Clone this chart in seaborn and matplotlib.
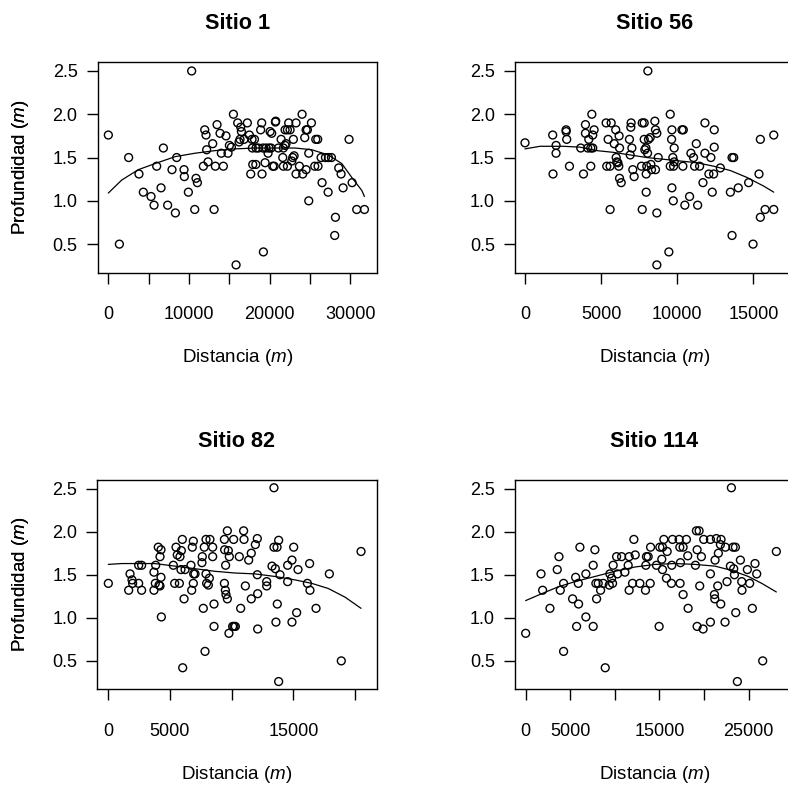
import numpy as np
import matplotlib
matplotlib.use("Agg")
import matplotlib.pyplot as plt
import seaborn as sns

# ---------------- data ----------------
titles = ["Sitio 1", "Sitio 56", "Sitio 82", "Sitio 114"]

dist_1 = [0, 1370, 2520, 3800, 4340, 5300, 5670, 6000, 6540, 6830, 7360, 7900, 8320, 8480,
          9390, 9430, 9930, 10340, 10720, 10880, 11050, 11790, 11960, 12120, 12200, 12370,
          12950, 13120, 13280, 13490, 13860, 14020, 14270, 14600, 14850, 15020, 15270, 15520,
          15850, 16050, 16220, 16340, 16430, 16510, 16840, 17250, 17500, 17670, 17830, 17870,
          17920, 18130, 18300, 18330, 18620, 18900, 19030, 19070, 19190, 19240, 19450, 19570,
          19820, 19940, 20070, 20190, 20270, 20400, 20570, 20730, 20770, 21100, 21440, 21640,
          21720, 21720, 21930, 21930, 22050, 22220, 22380, 22220, 22550, 22760, 22880, 22960,
          23050, 23290, 23290, 23710, 24040, 24120, 24370, 24540, 24540, 24700, 24870, 24870,
          25200, 25610, 25740, 25980, 26020, 26400, 26520, 26940, 27270, 27310, 27680, 28180,
          28090, 28590, 28880, 29130, 29870, 30250, 30820, 31780]
prof_1 = [1.76, 0.50, 1.50, 1.31, 1.10, 1.05, 0.95, 1.40, 1.15, 1.61, 0.95, 1.36, 0.86, 1.50,
          1.36, 1.28, 1.10, 2.50, 0.90, 1.26, 1.21, 1.40, 1.82, 1.76, 1.59, 1.45,
          1.66, 0.90, 1.40, 1.88, 1.78, 1.55, 1.40, 1.75, 1.55, 1.64, 1.62, 2.00,
          0.26, 1.90, 1.68, 1.71, 1.85, 1.80, 1.71, 1.90, 1.76, 1.31, 1.71, 1.61,
          1.42, 1.71, 1.42, 1.61, 1.61, 1.82, 1.90, 1.31, 1.61, 0.41, 1.44, 1.61,
          1.55, 1.61, 1.80, 1.61, 1.78, 1.40, 1.40, 1.91, 1.92, 1.61, 1.71, 1.50,
          1.61, 1.40, 1.64, 1.82, 1.66, 1.82, 1.90, 1.40, 1.82, 1.46, 1.50, 1.71,
          1.52, 1.90, 1.31, 1.40, 2.00, 1.31, 1.73, 1.82, 1.36, 1.82, 1.55, 1.00,
          1.90, 1.40, 1.71, 1.71, 1.40, 1.50, 1.21, 1.50, 1.10, 1.50, 1.50, 0.81,
          0.60, 1.38, 1.31, 1.15, 1.71, 1.21, 0.90, 0.90]

dist_56 = [0, 1820, 1840, 2040, 2040, 2700, 2700, 2740, 2920, 3660, 3840, 3970, 3970, 4120,
           4190, 4320, 4320, 4390, 4450, 4540, 4450, 5330, 5370, 5460, 5590, 5590, 5660, 5860,
           5960, 5990, 6030, 6100, 6160, 6180, 6210, 6210, 6320, 6860, 6910, 6950, 6970, 7020,
           7080, 7170, 7650, 7700, 7700, 7830, 7830, 7870, 7940, 7960, 7960, 8000, 8050, 8070,
           8110, 8220, 8270, 8310, 8530, 8570, 8570, 8660, 8660, 8660, 8750, 9450, 9540, 9540,
           9630, 9650, 9650, 9710, 9740, 9760, 9800, 9800, 10310, 10400, 10370, 10500, 10810,
           10900, 11070, 11140, 11250, 11340, 11470, 11690, 11820, 11820, 12080, 12210, 12300,
           12390, 12430, 12430, 12830, 13490, 13600, 13710, 13600, 14010, 14690, 14980, 15370,
           15460, 15460, 15770, 16340, 16340]
prof_56 = [1.67, 1.76, 1.31, 1.64, 1.55, 1.82, 1.80, 1.71, 1.40, 1.61, 1.31, 1.88, 1.78, 1.61,
           1.71, 1.61, 1.40, 2.00, 1.76, 1.82, 1.61, 1.90, 1.40, 1.71, 1.40, 0.90, 1.90, 1.66,
           1.82, 1.50, 1.45, 1.44, 1.40, 1.75, 1.61, 1.26, 1.21, 1.71, 1.53, 1.85, 1.90, 1.61,
           1.36, 1.28, 1.40, 0.90, 1.90, 1.90, 1.71, 1.59, 1.61, 1.31, 1.10, 1.40, 1.55, 2.50,
           1.71, 1.73, 1.42, 1.36, 1.92, 1.36, 1.82, 1.78, 0.26, 0.86, 1.50, 0.41, 2.00, 1.40,
           1.71, 1.15, 1.82, 1.50, 1.00, 1.40, 1.61, 1.45, 1.82, 1.82, 1.40, 0.95, 1.05,
           1.55, 1.50, 1.40, 1.66, 0.95, 1.40, 1.21, 1.90, 1.55, 1.31, 1.50, 1.10,
           1.31, 1.62, 1.82, 1.38, 1.10, 1.50, 1.50, 0.60, 1.15, 1.21, 0.50, 1.31,
           1.71, 0.81, 0.90, 0.90, 1.76]

dist_82 = [0, 1650, 1760, 1920, 1970, 2460, 2460, 2700, 2700, 3700, 3700, 3810, 3840, 4050,
           4110, 4190, 4270, 4270, 4190, 4300, 5270, 5380, 5490, 5590, 5760, 5810, 5890, 5920,
           6000, 6030, 6140, 6220, 6700, 6760, 6810, 6890, 6890, 6920, 7030, 7590, 7620, 7700,
           7780, 7840, 7920, 7920, 7970, 8110, 8190, 8240, 8460, 8460, 8570, 8570, 9410, 9430,
           9510, 9410, 9490, 9540, 9650, 9650, 9730, 9780, 9810, 10080, 10190, 10300, 10160,
           10620, 10730, 10970, 11000, 11110, 11380, 11590, 11590, 11920, 12080, 12080, 12110,
           12110, 12840, 12840, 13270, 13430, 13430, 13540, 13590, 13680, 13700, 13810, 13810,
           13920, 14540, 14540, 14890, 14890, 15030, 15270, 15380, 16140, 16320, 16350, 16840,
           17920, 18890, 20490]
prof_82 = [1.40, 1.32, 1.51, 1.44, 1.40, 1.40, 1.61, 1.61, 1.32, 1.32, 1.53, 1.40, 1.61, 1.82,
           1.38, 1.37, 1.47, 1.79, 1.71, 1.01, 1.61, 1.40, 1.82, 1.73, 1.40, 1.71, 1.56, 1.78,
           1.91, 0.42, 1.22, 1.56, 1.61, 1.32, 1.82, 1.40, 1.89, 1.51, 1.51, 1.64, 1.71, 1.11,
           1.82, 0.61, 1.91, 1.51, 1.40, 1.38, 1.46, 1.91, 1.82, 1.71, 1.16, 0.90, 1.91, 1.79,
           1.61, 1.40, 1.32, 1.27, 1.22, 2.01, 1.78, 0.82, 1.71, 0.90, 0.90, 0.90, 1.91,
           1.71, 1.11, 2.01, 1.91, 1.37, 1.67, 1.22, 1.75, 1.85, 1.92, 1.50, 1.28,
           0.87, 1.42, 1.37, 1.60, 2.51, 1.82, 1.57, 0.95, 1.82, 1.16, 1.90, 0.26,
           1.50, 1.42, 1.61, 1.67, 0.95, 1.82, 1.06, 1.56, 1.40, 1.63, 1.32, 1.11,
           1.51, 0.50, 1.77]

dist_114 = [0, 1720, 1900, 2720, 3540, 3730, 3880, 4250, 4250, 5260, 5600, 5710, 5900, 5930,
            6080, 6750, 6750, 7570, 7570, 7760, 7870, 7950, 8130, 8400, 8690, 8920, 9370, 9440,
            9630, 9740, 9810, 10190, 10300, 10750, 11120, 11490, 11600, 11600, 11980, 12130,
            12280, 12800, 13430, 13470, 13540, 13730, 13960, 14000, 14660, 14960, 15040, 15260,
            15340, 15340, 15490, 15780, 15860, 16340, 16380, 16460, 17200, 17280, 17310, 17350,
            17650, 17650, 18020, 18210, 18170, 19030, 19140, 19220, 19220, 19440, 19510, 19700,
            19890, 19960, 20710, 20710, 20710, 21160, 21200, 21230, 21380, 21530, 21600, 21830,
            21870, 21900, 22350, 22390, 22570, 22950, 23060, 23250, 23320, 23400, 23510, 23550,
            23730, 24070, 24220, 24250, 24850, 25110, 25410, 25710, 25900, 26570, 28100]
prof_114 = [0.82, 1.51, 1.32, 1.11, 1.56, 1.71, 1.32, 0.61, 1.40, 1.22, 1.47, 0.90, 1.40, 1.16,
            1.82, 1.51, 1.01, 0.90, 1.61, 1.79, 1.40, 1.22, 1.40, 1.32, 1.40, 0.42, 1.38, 1.51,
            1.46, 1.40, 1.61, 1.71, 1.51, 1.71, 1.53, 1.61, 1.71, 1.32, 1.40, 1.91,
            1.73, 1.40, 1.32, 1.61, 1.71, 1.71, 1.40, 1.82, 1.61, 0.90, 1.82, 1.68,
            1.82, 1.56, 1.91, 1.46, 1.77, 1.40, 1.61, 1.91, 1.91, 1.82, 1.40, 1.64,
            1.82, 1.27, 1.91, 1.11, 1.72, 1.61, 2.01, 1.79, 0.90, 2.01, 1.37, 1.71,
            0.87, 1.91, 1.91, 1.51, 0.95, 1.27, 1.22, 1.67, 1.92, 1.37, 1.75, 1.85,
            1.16, 1.91, 0.95, 1.82, 1.42, 1.60, 2.51, 1.82, 1.57, 1.50, 1.82, 1.06,
            0.26, 1.67, 1.42, 1.32, 1.56, 1.40, 1.11, 1.63, 1.51, 0.50, 1.77]

# fitted curves
fit_x_1 = [0, 1660, 3720, 5790, 8280, 10760, 13240, 15720, 18200, 20690, 23170, 25240,
           27300, 28970, 30210, 31450, 31780]
fit_y_1 = [1.09, 1.24, 1.36, 1.43, 1.51, 1.55, 1.58, 1.60, 1.61, 1.61, 1.61, 1.59,
           1.53, 1.43, 1.27, 1.12, 1.05]
fit_x_56 = [0, 990, 2520, 3620, 4710, 5810, 6910, 8000, 9100, 10200, 11290, 12390,
            13490, 14580, 15680, 16340]
fit_y_56 = [1.60, 1.63, 1.63, 1.62, 1.58, 1.56, 1.53, 1.50, 1.48, 1.46, 1.44, 1.40,
            1.35, 1.27, 1.17, 1.10]
fit_x_82 = [0, 1080, 2430, 3780, 5410, 7030, 8650, 10270, 11890, 13510, 15140, 16490,
            17840, 19190, 20490]
fit_y_82 = [1.62, 1.63, 1.63, 1.63, 1.60, 1.57, 1.54, 1.52, 1.51, 1.48, 1.44, 1.40,
            1.34, 1.24, 1.11]
fit_x_114 = [0, 1800, 3660, 5530, 7770, 10010, 12260, 14500, 16740, 18980, 21230, 23100,
             24960, 26460, 28100]
fit_y_114 = [1.20, 1.28, 1.36, 1.42, 1.48, 1.54, 1.59, 1.62, 1.63, 1.62, 1.60, 1.55,
             1.48, 1.40, 1.30]

dists = [dist_1, dist_56, dist_82, dist_114]
profs = [prof_1, prof_56, prof_82, prof_114]
fit_xs = [fit_x_1, fit_x_56, fit_x_82, fit_x_114]
fit_ys = [fit_y_1, fit_y_56, fit_y_82, fit_y_114]

x_ticks = [[0, 5000, 10000, 15000, 20000, 25000, 30000],
           [0, 5000, 10000, 15000],
           [0, 5000, 10000, 15000, 20000],
           [0, 5000, 10000, 15000, 20000, 25000]]
x_ticklabels = [["0", "", "10000", "", "20000", "", "30000"],
                ["0", "5000", "10000", "15000"],
                ["0", "5000", "", "15000", ""],
                ["0", "5000", "", "15000", "", "25000"]]
y_ticks = [0.5, 1.0, 1.5, 2.0, 2.5]
y_ticklabels = ["0.5", "1.0", "1.5", "2.0", "2.5"]

# ---------------- layout (pixels) ----------------
W, H = 788, 787
boxes = [(97.7, 62.3, 376.7, 272.7),
         (515.0, 62.3, 794.0, 272.7),
         (97.3, 480.0, 376.7, 689.3),
         (515.0, 480.0, 794.0, 689.3)]
xlims = [(-1320, 33300), (-657, 17670), (-894, 21760), (-1196, 30080)]
ylim = (0.17, 2.60)

sns.set_theme(style="white")
plt.rcParams["font.family"] = ["Liberation Sans", "DejaVu Sans"]
plt.rcParams["mathtext.fontset"] = "custom"
plt.rcParams["mathtext.it"] = "Liberation Sans:italic"
plt.rcParams["mathtext.rm"] = "Liberation Sans"
plt.rcParams["text.color"] = "black"
plt.rcParams["axes.labelcolor"] = "black"

fig = plt.figure(figsize=(W / 100, H / 100), dpi=100)
fig.patch.set_facecolor("white")

for i in range(4):
    l, t, r, b = boxes[i]
    ax = fig.add_axes([l / W, 1 - b / H, (r - l) / W, (b - t) / H])
    sns.scatterplot(x=dists[i], y=profs[i], ax=ax, marker="o", s=32, facecolors="none",
                    edgecolor="black", linewidth=1.0, zorder=3)
    sns.lineplot(x=fit_xs[i], y=fit_ys[i], ax=ax, color="black", lw=0.9,
                 estimator=None, sort=True, zorder=2)
    ax.set_xlim(*xlims[i])
    ax.set_ylim(*ylim)
    ax.set_xticks(x_ticks[i])
    ax.set_xticklabels(x_ticklabels[i])
    ax.set_yticks(y_ticks)
    ax.set_yticklabels(y_ticklabels)
    ax.tick_params(axis="both", direction="out", length=8, width=1.0, color="black",
                   labelsize=13, labelcolor="black", bottom=True, left=True)
    ax.tick_params(axis="x", pad=16)
    ax.tick_params(axis="y", pad=6.5)
    for sp in ax.spines.values():
        sp.set_color("black")
        sp.set_linewidth(1.0)
    ax.grid(False)
    ax.set_facecolor("white")
    ax.set_title(titles[i], fontsize=15.6, fontweight="bold", pad=24, color="black")
    ax.set_xlabel(r"Distancia ($\mathit{m}$)", fontsize=13.5, color="black")
    ax.set_ylabel(r"Profundidad ($\mathit{m}$)", fontsize=13.5, color="black")
    hbox = b - t
    wbox = r - l
    ax.xaxis.set_label_coords(0.5, -(357.5 - 272.7) / hbox)
    ax.xaxis.label.set_va("center")
    ax.yaxis.set_label_coords(-(l - 20.5) / wbox, 0.5)
    ax.yaxis.label.set_va("center")

fig.savefig("out.png", dpi=100, facecolor="white")
